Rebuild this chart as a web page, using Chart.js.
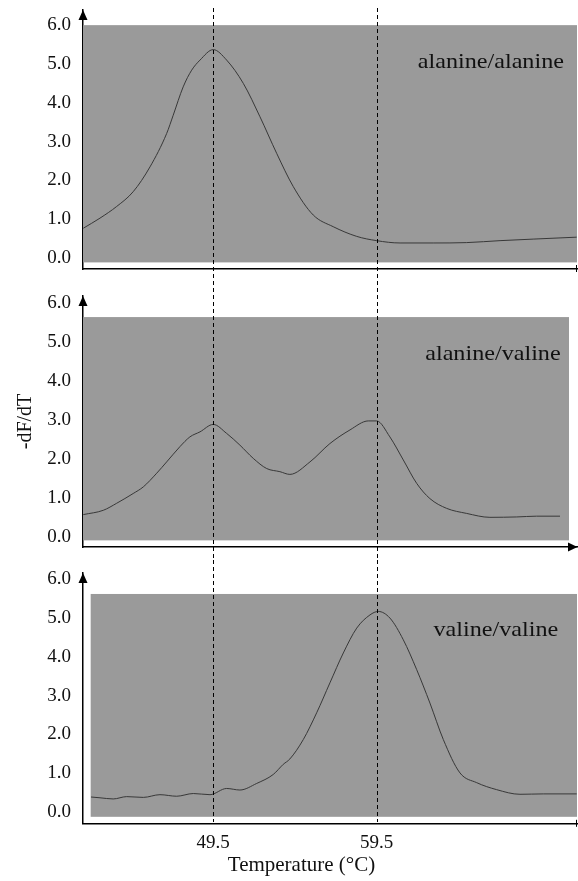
<!DOCTYPE html>
<html>
<head>
<meta charset="utf-8">
<script src="https://cdn.jsdelivr.net/npm/chart.js@4.4.0/dist/chart.umd.min.js"></script>
<style>
body{margin:0;background:#fff;}
#wrap{position:relative;width:578px;height:881px;}
canvas{position:absolute;left:0;}
</style>
</head>
<body>
<div id="wrap">
<canvas id="c1" width="578" height="281" style="top:0px"></canvas>
<canvas id="c2" width="578" height="279" style="top:281px"></canvas>
<canvas id="c3" width="578" height="321" style="top:560px"></canvas>
</div>
<script>
// melting curves (temperature in degC, -dF/dT)
const tempAlaAla=[41.55,42.57,43.59,44.60,45.63,46.65,47.05,47.66,48.18,48.69,49.5,50.32,51.34,52.36,53.38,54.40,55.62,56.84,58.28,59.5,60.93,62.96,65.01,67.05,69.08,71.74];
const dfAlaAla=[0.77,1.03,1.33,1.71,2.35,3.21,3.68,4.41,4.84,5.10,5.37,5.10,4.50,3.64,2.70,1.84,1.11,0.81,0.56,0.45,0.39,0.39,0.40,0.45,0.49,0.54];

const tempAlaVal=[41.55,42.77,43.59,44.60,45.22,46.04,46.65,47.46,48.07,48.69,49.5,50.32,51.13,51.95,52.77,53.58,54.19,55.42,56.64,57.87,58.99,59.5,60.31,61.13,61.95,62.76,63.78,65.01,66.43,68.07,69.29,70.72];
const dfAlaVal=[0.57,0.68,0.86,1.11,1.28,1.63,1.92,2.31,2.56,2.69,2.88,2.65,2.35,2.01,1.75,1.67,1.60,1.92,2.39,2.74,2.97,2.97,2.56,1.97,1.37,0.98,0.73,0.60,0.50,0.51,0.53,0.53];

const tempValVal=[42.02,42.57,43.38,44.20,45.22,46.24,47.26,48.28,49.30,50.32,51.13,52.16,53.17,53.78,54.19,55.01,55.83,56.64,57.46,58.28,59.09,59.60,60.31,61.13,61.95,62.76,63.58,64.60,65.62,66.84,68.27,69.70,71.74];
const dfValVal=[0.39,0.37,0.34,0.40,0.38,0.45,0.41,0.48,0.45,0.61,0.57,0.74,0.97,1.23,1.37,1.87,2.56,3.33,4.10,4.74,5.08,5.17,5.00,4.44,3.67,2.81,1.87,1.01,0.76,0.58,0.46,0.47,0.47];

const panelNames=['alanine/alanine','alanine/valine','valine/valine'];
const xTicks=[49.5,59.5];
const yTicks=[0,1,2,3,4,5,6];

Chart.defaults.font.family='"Liberation Serif","Times New Roman",serif';
Chart.defaults.color='#111';

const panels=[
  {id:'c1',temps:tempAlaAla,vals:dfAlaAla,name:panelNames[0],yMin:-0.28,yMax:6.39,padTop:10,padLeft:0,xH:12,
   box:[41.53,71.76,-0.11,6.0],label:[70.96,5.05],xEnd:'tick',dashTop:8,dashBottom:null,yTitle:'',xLabels:false,title:''},
  {id:'c2',temps:tempAlaVal,vals:dfAlaVal,name:panelNames[1],yMin:-0.26,yMax:6.17,padTop:15,padLeft:0,xH:13,
   box:[41.53,71.27,-0.09,5.63],label:[70.76,4.66],xEnd:'arrow',dashTop:0,dashBottom:null,yTitle:'-dF/dT',xLabels:false,title:''},
  {id:'c3',temps:tempValVal,vals:dfValVal,name:panelNames[2],yMin:-0.30,yMax:6.16,padTop:13,padLeft:26,xH:29,
   box:[42.0,71.76,-0.12,5.62],label:[70.61,4.67],xEnd:'tick',dashTop:0,dashBottom:262,yTitle:'',xLabels:true,title:'Temperature (\u00B0C)'}
];

const deco={
  id:'deco',
  beforeDatasetsDraw(chart,args,o){
    const {ctx,scales:{x,y}}=chart;
    const b=o.box;
    const l=x.getPixelForValue(b[0]),r=x.getPixelForValue(b[1]);
    const t=y.getPixelForValue(b[3]),bt=y.getPixelForValue(b[2]);
    ctx.save();
    ctx.fillStyle='#9a9a9a';
    ctx.fillRect(l,t,r-l,bt-t);
    ctx.restore();
  },
  afterDraw(chart,args,o){
    const {ctx,chartArea:a,scales:{x,y}}=chart;
    ctx.save();
    ctx.strokeStyle='#000';
    ctx.lineWidth=1;
    ctx.setLineDash([4,3]);
    xTicks.forEach(v=>{
      const px=Math.round(x.getPixelForValue(v))+0.5;
      ctx.beginPath();
      ctx.moveTo(px,o.dashTop);
      ctx.lineTo(px,o.dashBottom===null?chart.height:o.dashBottom);
      ctx.stroke();
    });
    ctx.setLineDash([]);
    ctx.fillStyle='#000';
    ctx.beginPath();
    ctx.moveTo(a.left,a.top);
    ctx.lineTo(a.left-4.5,a.top+10);
    ctx.lineTo(a.left+4.5,a.top+10);
    ctx.closePath();
    ctx.fill();
    if(o.xEnd==='arrow'){
      ctx.beginPath();
      ctx.moveTo(a.right+0.5,a.bottom);
      ctx.lineTo(a.right-9,a.bottom-4.5);
      ctx.lineTo(a.right-9,a.bottom+4.5);
      ctx.closePath();
      ctx.fill();
    }else{
      ctx.beginPath();
      ctx.moveTo(a.right-0.5,a.bottom-4);
      ctx.lineTo(a.right-0.5,a.bottom+3);
      ctx.stroke();
    }
    // panel name, a bit stretched like the printed figure
    ctx.translate(x.getPixelForValue(o.label[0]),y.getPixelForValue(o.label[1]));
    ctx.scale(1.15,1);
    ctx.font='21px "Liberation Serif"';
    ctx.fillStyle='#111';
    ctx.textAlign='right';
    ctx.textBaseline='middle';
    ctx.fillText(o.name,0,0);
    ctx.restore();
  }
};

panels.forEach(p=>{
  new Chart(document.getElementById(p.id),{
    type:'line',
    data:{datasets:[{
      data:p.temps.map((t,i)=>({x:t,y:p.vals[i]})),
      borderColor:'#383838',
      borderWidth:1,
      pointRadius:0,
      cubicInterpolationMode:'monotone',
      fill:false
    }]},
    options:{
      responsive:false,
      animation:false,
      layout:{padding:{top:p.padTop,left:p.padLeft,right:1,bottom:0}},
      plugins:{
        legend:{display:false},
        tooltip:{enabled:false},
        title:{display:!!p.title,text:p.title,position:'bottom',color:'#111',
               font:{size:21,weight:'normal'},padding:{top:0,bottom:3}},
        deco:p
      },
      scales:{
        x:{type:'linear',min:41.53,max:71.76,
           grid:{display:false,drawTicks:false},
           border:{display:true,color:'#000',width:1.5},
           ticks:{display:p.xLabels,padding:8,font:{size:19},callback:v=>v.toFixed(1)},
           afterBuildTicks:s=>{s.ticks=xTicks.map(v=>({value:v}));},
           afterFit:s=>{s.height=p.xH;s.paddingLeft=0;s.paddingRight=0;}},
        y:{min:p.yMin,max:p.yMax,
           grid:{display:false,drawTicks:false},
           border:{display:true,color:'#000',width:1.5},
           ticks:{padding:12,font:{size:19},callback:v=>v.toFixed(1)},
           afterBuildTicks:s=>{s.ticks=yTicks.map(v=>({value:v}));},
           afterFit:s=>{s.width=83-p.padLeft;s.paddingTop=0;s.paddingBottom=0;},
           title:{display:!!p.yTitle,text:p.yTitle,font:{size:20},color:'#111',padding:{top:14,bottom:0}}}
      }
    },
    plugins:[deco]
  });
});
</script>
</body>
</html>
